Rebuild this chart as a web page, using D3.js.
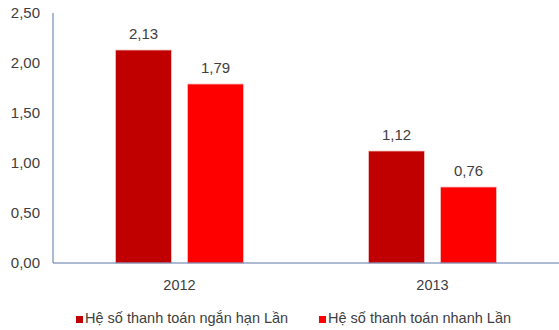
<!DOCTYPE html>
<html>
<head>
<meta charset="utf-8">
<script src="https://cdn.jsdelivr.net/npm/d3@7"></script>
<style>
  body { margin: 0; background: #fff; }
  text { font-family: "Liberation Sans", Arial, sans-serif; fill: #404040; }
</style>
</head>
<body>
<div id="chart"></div>
<script>
var width = 559;
var height = 330;

// data
var years = ['2012', '2013'];
var seriesNames = ['Hệ số thanh toán ngắn hạn Lần', 'Hệ số thanh toán nhanh Lần'];
var shortTerm = [2.13, 1.12];
var quick = [1.79, 0.76];
var yTicks = [0, 0.5, 1, 1.5, 2, 2.5];

var COLORS = ['#c00000', '#ff0000'];
var AXIS_COLOR = '#5b74a8';

var margin = { top: 13, right: 0, bottom: 67, left: 53 };
var plotW = width - margin.left - margin.right;
var plotH = height - margin.top - margin.bottom;

var svg = d3.select('#chart').append('svg')
    .attr('width', width)
    .attr('height', height);

var g = svg.append('g')
    .attr('transform', 'translate(' + margin.left + ',' + margin.top + ')');

var x0 = d3.scaleBand()
    .domain(years)
    .range([0, plotW])
    .paddingInner(0)
    .paddingOuter(0);

var x1 = d3.scaleBand()
    .domain([0, 1])
    .range([62.5, x0.bandwidth() - 62.5])
    .paddingInner(16 / 72);

var y = d3.scaleLinear()
    .domain([0, 2.5])
    .range([plotH, 0]);

// y tick labels
g.selectAll('.ytick')
    .data(yTicks)
    .enter().append('text')
    .attr('class', 'ytick')
    .attr('x', -13)
    .attr('y', function (d) { return y(d); })
    .attr('dy', '0.35em')
    .attr('text-anchor', 'end')
    .style('font-size', '15px')
    .text(function (d) { return d.toFixed(2).replace('.', ','); });

var rows = years.map(function (yr, i) {
    return { year: yr, values: [shortTerm[i], quick[i]] };
});

var groups = g.selectAll('.grp')
    .data(rows)
    .enter().append('g')
    .attr('transform', function (d) { return 'translate(' + x0(d.year) + ',0)'; });

groups.selectAll('rect')
    .data(function (d) { return d.values; })
    .enter().append('rect')
    .attr('x', function (d, i) { return x1(i); })
    .attr('width', x1.bandwidth())
    .attr('y', function (d) { return y(d); })
    .attr('height', function (d) { return plotH - y(d); })
    .attr('fill', function (d, i) { return COLORS[i]; })
    .attr('stroke', '#f6c4c4')
    .attr('stroke-width', 0.8);

groups.selectAll('.val')
    .data(function (d) { return d.values; })
    .enter().append('text')
    .attr('class', 'val')
    .attr('x', function (d, i) { return x1(i) + x1.bandwidth() / 2; })
    .attr('y', function (d) { return y(d) - 11; })
    .attr('text-anchor', 'middle')
    .style('font-size', '15px')
    .text(function (d) { return d.toFixed(2).replace('.', ','); });

// axes lines
g.append('line')
    .attr('x1', 0).attr('x2', 0)
    .attr('y1', 0).attr('y2', plotH)
    .attr('stroke', AXIS_COLOR)
    .attr('stroke-width', 1);

g.append('line')
    .attr('x1', 0).attr('x2', plotW)
    .attr('y1', plotH).attr('y2', plotH)
    .attr('stroke', AXIS_COLOR)
    .attr('stroke-width', 1);

// category labels
g.selectAll('.cat')
    .data(years)
    .enter().append('text')
    .attr('class', 'cat')
    .attr('x', function (d) { return x0(d) + x0.bandwidth() / 2; })
    .attr('y', plotH + 27)
    .attr('text-anchor', 'middle')
    .style('font-size', '14.5px')
    .text(function (d) { return d; });

// legend
var legendX = [76, 319];
var leg = svg.selectAll('.leg')
    .data(seriesNames)
    .enter().append('g')
    .attr('transform', function (d, i) { return 'translate(' + legendX[i] + ',318)'; });

leg.append('rect')
    .attr('x', 0).attr('y', -2)
    .attr('width', 7).attr('height', 7)
    .attr('fill', function (d, i) { return COLORS[i]; });

leg.append('text')
    .attr('x', 9)
    .attr('y', 0)
    .attr('dy', '0.35em')
    .style('font-size', '14.5px')
    .text(function (d) { return d; });
</script>
</body>
</html>
